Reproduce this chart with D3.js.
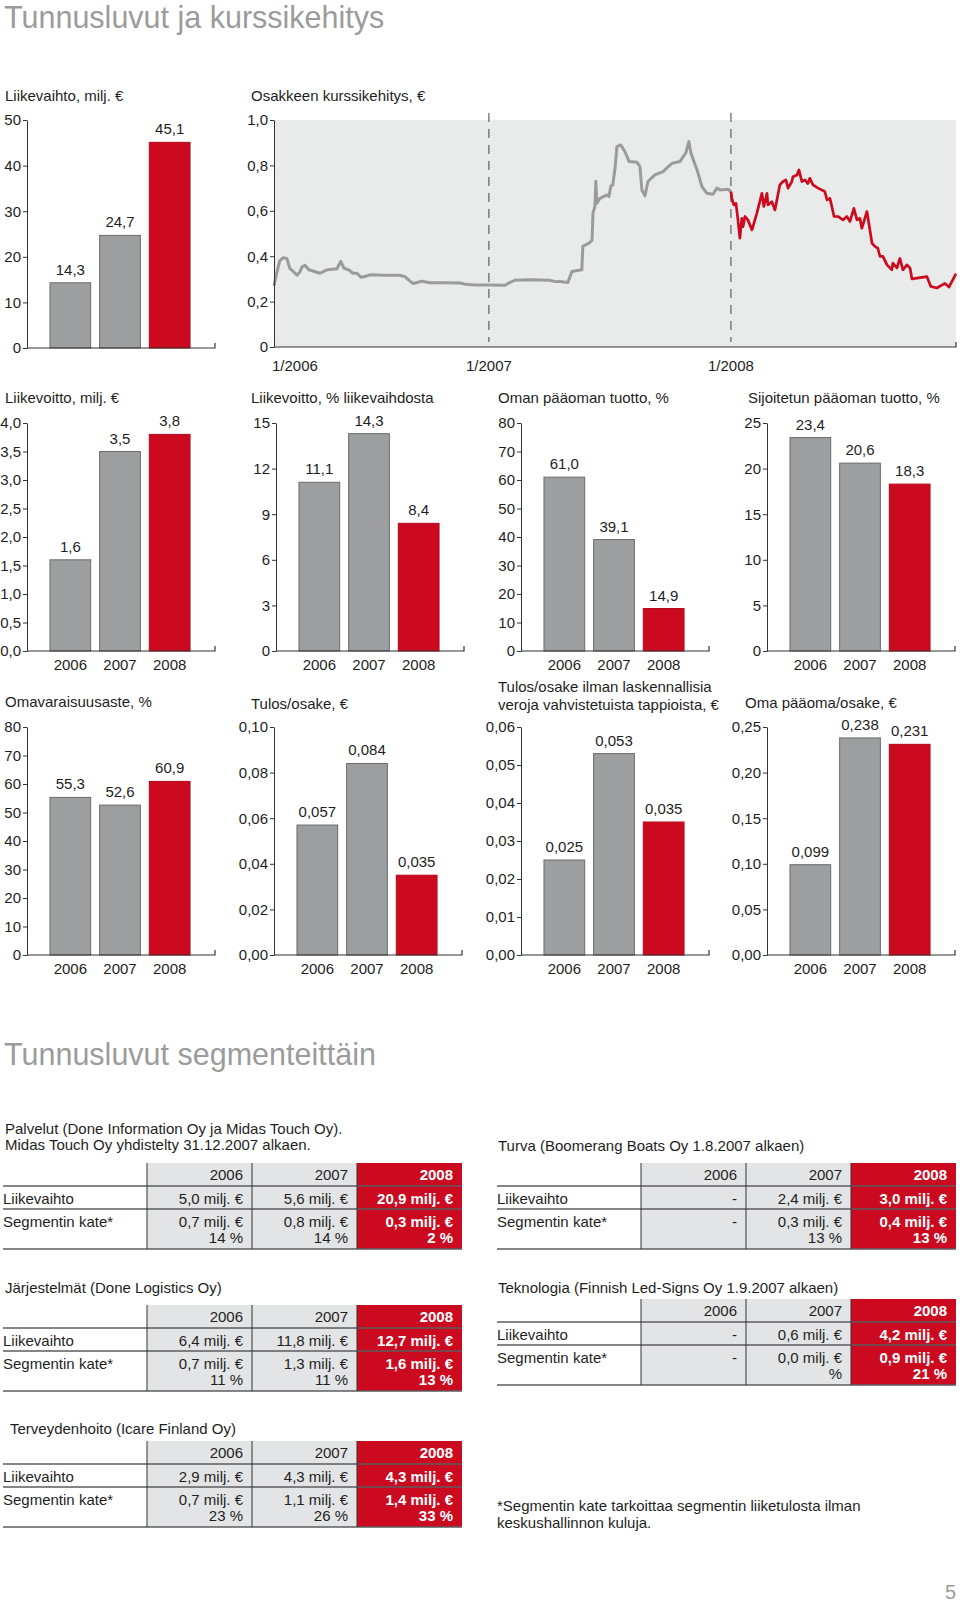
<!DOCTYPE html>
<html><head><meta charset="utf-8">
<script src="https://cdn.jsdelivr.net/npm/d3@7"></script>
<style>
body{margin:0;background:#fff}
svg{display:block}
text{font-family:"Liberation Sans",Arial,Helvetica,sans-serif}
</style>
</head><body>
<svg id="c" width="960" height="1605"></svg>
<script>
// ---------------- DATA ----------------
const years = ["2006", "2007", "2008"];
const liikevaihto = [14.3, 24.7, 45.1];
const liikevoitto = [1.6, 3.5, 3.8];
const liikevoittoPct = [11.1, 14.3, 8.4];
const omanPaaomanTuotto = [61.0, 39.1, 14.9];
const sijoitetunPaaomanTuotto = [23.4, 20.6, 18.3];
const omavaraisuusaste = [55.3, 52.6, 60.9];
const tulosOsake = [0.057, 0.084, 0.035];
const tulosOsakeIlman = [0.025, 0.053, 0.035];
const omaPaaomaOsake = [0.099, 0.238, 0.231];

const ticksLiikevaihto = [0, 10, 20, 30, 40, 50];
const ticksLiikevoitto = [0, 0.5, 1.0, 1.5, 2.0, 2.5, 3.0, 3.5, 4.0];
const ticksLiikevoittoPct = [0, 3, 6, 9, 12, 15];
const ticksOmanTuotto = [0, 10, 20, 30, 40, 50, 60, 70, 80];
const ticksSijoitetun = [0, 5, 10, 15, 20, 25];
const ticksOmavaraisuus = [0, 10, 20, 30, 40, 50, 60, 70, 80];
const ticksTulos = [0, 0.02, 0.04, 0.06, 0.08, 0.10];
const ticksTulosIlman = [0, 0.01, 0.02, 0.03, 0.04, 0.05, 0.06];
const ticksOmaPaaoma = [0, 0.05, 0.10, 0.15, 0.20, 0.25];

// share price (decimal year, €)
const stockDates = [2006.112,2006.124,2006.136,2006.149,2006.165,2006.178,2006.190,2006.207,2006.219,2006.227,2006.240,2006.256,2006.273,2006.302,2006.331,2006.372,2006.388,2006.401,2006.421,2006.438,2006.455,2006.471,2006.492,2006.508,2006.570,2006.632,2006.653,2006.674,2006.686,2006.707,2006.723,2006.756,2006.818,2006.880,2006.905,2006.942,2007.004,2007.066,2007.079,2007.107,2007.169,2007.252,2007.273,2007.293,2007.326,2007.343,2007.384,2007.388,2007.417,2007.426,2007.430,2007.438,2007.442,2007.446,2007.459,2007.488,2007.496,2007.504,2007.512,2007.521,2007.529,2007.545,2007.562,2007.579,2007.612,2007.624,2007.632,2007.645,2007.657,2007.686,2007.719,2007.756,2007.789,2007.814,2007.826,2007.835,2007.860,2007.880,2007.901,2007.926,2007.942,2007.955,2007.988,2008.000,2008.004,2008.012,2008.021,2008.029,2008.037,2008.045,2008.050,2008.058,2008.070,2008.087,2008.107,2008.128,2008.136,2008.149,2008.153,2008.169,2008.182,2008.202,2008.215,2008.227,2008.236,2008.252,2008.256,2008.273,2008.281,2008.293,2008.306,2008.318,2008.326,2008.339,2008.360,2008.388,2008.397,2008.409,2008.417,2008.426,2008.442,2008.463,2008.479,2008.492,2008.508,2008.521,2008.533,2008.541,2008.562,2008.583,2008.595,2008.607,2008.616,2008.628,2008.645,2008.665,2008.669,2008.686,2008.698,2008.711,2008.727,2008.740,2008.748,2008.810,2008.826,2008.851,2008.884,2008.901,2008.930];
const stockPrices = [0.27,0.33,0.38,0.393,0.39,0.345,0.335,0.316,0.33,0.352,0.36,0.34,0.335,0.325,0.34,0.345,0.377,0.347,0.34,0.325,0.325,0.307,0.312,0.318,0.316,0.316,0.31,0.29,0.28,0.285,0.29,0.283,0.283,0.282,0.276,0.273,0.273,0.272,0.28,0.294,0.296,0.294,0.288,0.289,0.284,0.333,0.34,0.443,0.46,0.47,0.59,0.62,0.73,0.633,0.655,0.67,0.663,0.71,0.714,0.787,0.883,0.89,0.86,0.817,0.814,0.795,0.692,0.666,0.729,0.758,0.773,0.809,0.817,0.856,0.905,0.853,0.78,0.707,0.677,0.673,0.70,0.692,0.695,0.685,0.655,0.626,0.633,0.56,0.48,0.567,0.53,0.575,0.56,0.516,0.589,0.677,0.619,0.677,0.626,0.64,0.604,0.714,0.729,0.736,0.70,0.729,0.75,0.758,0.78,0.729,0.736,0.72,0.743,0.714,0.70,0.685,0.648,0.655,0.619,0.575,0.575,0.56,0.575,0.553,0.611,0.56,0.567,0.523,0.597,0.457,0.443,0.435,0.399,0.399,0.362,0.34,0.37,0.348,0.39,0.34,0.362,0.348,0.30,0.31,0.267,0.26,0.28,0.264,0.323];
const stockTicks = [0, 0.2, 0.4, 0.6, 0.8, 1.0];
const stockYearTicks = [2006, 2007, 2008];
const stockYearLabels = ["1/2006", "1/2007", "1/2008"];

// segment tables
const rowLabels = ["Liikevaihto", "Segmentin kate*"];
const palvelutLiikevaihto = ["5,0 milj. €", "5,6 milj. €", "20,9 milj. €"];
const palvelutKate = ["0,7 milj. €", "0,8 milj. €", "0,3 milj. €"];
const palvelutKatePct = ["14 %", "14 %", "2 %"];
const turvaLiikevaihto = ["-", "2,4 milj. €", "3,0 milj. €"];
const turvaKate = ["-", "0,3 milj. €", "0,4 milj. €"];
const turvaKatePct = ["", "13 %", "13 %"];
const jarjestelmatLiikevaihto = ["6,4 milj. €", "11,8 milj. €", "12,7 milj. €"];
const jarjestelmatKate = ["0,7 milj. €", "1,3 milj. €", "1,6 milj. €"];
const jarjestelmatKatePct = ["11 %", "11 %", "13 %"];
const teknologiaLiikevaihto = ["-", "0,6 milj. €", "4,2 milj. €"];
const teknologiaKate = ["-", "0,0 milj. €", "0,9 milj. €"];
const teknologiaKatePct = ["", "%", "21 %"];
const terveysLiikevaihto = ["2,9 milj. €", "4,3 milj. €", "4,3 milj. €"];
const terveysKate = ["0,7 milj. €", "1,1 milj. €", "1,4 milj. €"];
const terveysKatePct = ["23 %", "26 %", "33 %"];

// ---------------- DRAWING ----------------
const svg = d3.select("#c");
const INK = "#1e1e1e", GRAY = "#9d9e9f", GRAYEDGE = "#6a6b6d", RED = "#cc0a1f", HEAD = "#9b9b9b";
const FS = 15;
const fmt1 = v => d3.format(".1f")(v).replace(".", ",");
const fmt2 = v => d3.format(".2f")(v).replace(".", ",");
const fmt3 = v => d3.format(".3f")(v).replace(".", ",");
const fmt0 = v => d3.format("d")(v);

function heading(txt, x, y) {
  svg.append("text").attr("x", x).attr("y", y).attr("font-size", 30.5)
    .attr("fill", HEAD).text(txt);
}
heading("Tunnusluvut ja kurssikehitys", 4, 28);
heading("Tunnusluvut segmenteittäin", 4, 1065);

function styleAxis(g) {
  g.selectAll("text").attr("font-size", FS).attr("fill", INK);
  g.selectAll("line").attr("stroke", "#333");
  g.select(".domain").attr("stroke", "#333");
}

function barChart(o) {
  const g = svg.append("g");
  o.title.forEach((t, i) => g.append("text").attr("x", o.tx).attr("y", o.ty + i * 18)
    .attr("font-size", FS).attr("fill", INK).text(t));
  const y = d3.scaleLinear().domain([0, d3.max(o.ticks)]).range([o.yb, o.yt]);
  const x = d3.scaleBand().domain(years).range([o.ax + 18, o.ax + 168])
    .paddingInner(0.18).paddingOuter(0.1);
  g.selectAll("rect.bar").data(o.values).join("rect").attr("class", "bar")
    .attr("x", (d, i) => x(years[i]))
    .attr("y", d => y(d))
    .attr("width", x.bandwidth())
    .attr("height", d => y(0) - y(d))
    .attr("fill", (d, i) => i === 2 ? RED : GRAY)
    .attr("stroke", (d, i) => i === 2 ? "#b5071b" : GRAYEDGE)
    .attr("stroke-width", 1);
  g.selectAll("text.val").data(o.values).join("text").attr("class", "val")
    .attr("x", (d, i) => x(years[i]) + x.bandwidth() / 2)
    .attr("y", d => y(d) - 8)
    .attr("text-anchor", "middle").attr("font-size", FS).attr("fill", INK)
    .text(d => o.valFmt(d));
  const ya = g.append("g").attr("transform", `translate(${o.ax},0)`)
    .call(d3.axisLeft(y).tickValues(o.ticks).tickFormat(o.tickFmt).tickSizeInner(4).tickSizeOuter(0).tickPadding(2));
  styleAxis(ya);
  const xe = o.ax + 188;
  g.append("path").attr("d", `M${o.ax},${o.yb}H${xe}V${o.yb - 5}`)
    .attr("fill", "none").attr("stroke", "#333").attr("stroke-width", 1.2);
  if (o.showYears) {
    g.selectAll("text.yr").data(years).join("text").attr("class", "yr")
      .attr("x", d => x(d) + x.bandwidth() / 2).attr("y", o.yb + 19)
      .attr("text-anchor", "middle").attr("font-size", FS).attr("fill", INK).text(d => d);
  }
}

// Row 1
barChart({ax: 27, yt: 120, yb: 348, tx: 5, ty: 101, title: ["Liikevaihto, milj. €"],
  values: liikevaihto, ticks: ticksLiikevaihto, tickFmt: fmt0, valFmt: fmt1, showYears: false});

// Stock chart
(function () {
  const ax = 274, xr = 956, yt = 120, yb = 347;
  const g = svg.append("g");
  g.append("text").attr("x", 251).attr("y", 101).attr("font-size", FS).attr("fill", INK)
    .text("Osakkeen kurssikehitys, €");
  const xs = d3.scaleLinear().domain([stockDates[0], stockDates[stockDates.length - 1]]).range([ax, xr]);
  const ys = d3.scaleLinear().domain([0, 1]).range([yb, yt]);
  g.append("rect").attr("x", ax).attr("y", yt).attr("width", xr - ax).attr("height", yb - yt)
    .attr("fill", "#e9eaea");
  stockYearTicks.filter(t => xs(t) > ax + 1).forEach(t => {
    g.append("line").attr("x1", xs(t)).attr("x2", xs(t)).attr("y1", 113).attr("y2", 342)
      .attr("stroke", "#444").attr("stroke-width", 1).attr("stroke-dasharray", "9,7");
  });
  const pts = stockDates.map((d, i) => ({d, p: stockPrices[i]}));
  const line = d3.line().x(d => xs(d.d)).y(d => ys(d.p));
  g.append("path").datum(pts.filter(d => d.d <= 2008)).attr("d", line)
    .attr("fill", "none").attr("stroke", "#9b9b9b").attr("stroke-width", 3).attr("stroke-linejoin", "round");
  g.append("path").datum(pts.filter(d => d.d >= 2008)).attr("d", line)
    .attr("fill", "none").attr("stroke", RED).attr("stroke-width", 2.7).attr("stroke-linejoin", "round");
  const ya = g.append("g").attr("transform", `translate(${ax},0)`)
    .call(d3.axisLeft(ys).tickValues(stockTicks).tickFormat(v => v === 0 ? "0" : fmt1(v))
      .tickSizeInner(4).tickSizeOuter(0).tickPadding(2));
  styleAxis(ya);
  g.append("path").attr("d", `M${ax},${yb}H${xr}V${yb - 5}`)
    .attr("fill", "none").attr("stroke", "#333").attr("stroke-width", 1.2);
  stockYearTicks.forEach((t, i) => {
    const px = xs(t);
    const inside = px > ax + 1;
    g.append("text").attr("x", inside ? px : ax - 2).attr("y", 371)
      .attr("text-anchor", inside ? "middle" : "start")
      .attr("font-size", FS).attr("fill", INK).text(stockYearLabels[i]);
  });
})();

// Row 2
barChart({ax: 27, yt: 423, yb: 651, tx: 5, ty: 403, title: ["Liikevoitto, milj. €"],
  values: liikevoitto, ticks: ticksLiikevoitto, tickFmt: fmt1, valFmt: fmt1, showYears: true});
barChart({ax: 276, yt: 423, yb: 651, tx: 251, ty: 403, title: ["Liikevoitto, % liikevaihdosta"],
  values: liikevoittoPct, ticks: ticksLiikevoittoPct, tickFmt: fmt0, valFmt: fmt1, showYears: true});
barChart({ax: 521, yt: 423, yb: 651, tx: 498, ty: 403, title: ["Oman pääoman tuotto, %"],
  values: omanPaaomanTuotto, ticks: ticksOmanTuotto, tickFmt: fmt0, valFmt: fmt1, showYears: true});
barChart({ax: 767, yt: 423, yb: 651, tx: 748, ty: 403, title: ["Sijoitetun pääoman tuotto, %"],
  values: sijoitetunPaaomanTuotto, ticks: ticksSijoitetun, tickFmt: fmt0, valFmt: fmt1, showYears: true});

// Row 3
barChart({ax: 27, yt: 727, yb: 955, tx: 5, ty: 707, title: ["Omavaraisuusaste, %"],
  values: omavaraisuusaste, ticks: ticksOmavaraisuus, tickFmt: fmt0, valFmt: fmt1, showYears: true});
barChart({ax: 274, yt: 727, yb: 955, tx: 251, ty: 709, title: ["Tulos/osake, €"],
  values: tulosOsake, ticks: ticksTulos, tickFmt: fmt2, valFmt: fmt3, showYears: true});
barChart({ax: 521, yt: 727, yb: 955, tx: 498, ty: 692, title: ["Tulos/osake ilman laskennallisia", "veroja vahvistetuista tappioista, €"],
  values: tulosOsakeIlman, ticks: ticksTulosIlman, tickFmt: fmt2, valFmt: fmt3, showYears: true});
barChart({ax: 767, yt: 727, yb: 955, tx: 745, ty: 708, title: ["Oma pääoma/osake, €"],
  values: omaPaaomaOsake, ticks: ticksOmaPaaoma, tickFmt: fmt2, valFmt: fmt3, showYears: true});

// ---------------- TABLES ----------------
function segTable(o) {
  const g = svg.append("g");
  o.subtitle.forEach((t, i) => g.append("text").attr("x", o.sx).attr("y", o.sy + i * 16)
    .attr("font-size", FS).attr("fill", INK).text(t));
  const widths = [144, 105, 105, 105];
  const cx = [o.x0];
  widths.forEach(w => cx.push(cx[cx.length - 1] + w));
  const rh = [23, 23, 40];
  const ry = [o.top];
  rh.forEach(h => ry.push(ry[ry.length - 1] + h));
  const bottom = ry[3];
  for (let c = 0; c < 3; c++) {
    g.append("rect").attr("x", cx[c + 1]).attr("y", o.top).attr("width", widths[c + 1])
      .attr("height", bottom - o.top).attr("fill", c === 2 ? RED : "#e3e4e5");
  }
  [ry[1], ry[2], ry[3]].forEach(yy => g.append("line").attr("x1", cx[0]).attr("x2", cx[4])
    .attr("y1", yy).attr("y2", yy).attr("stroke", "#5c5d5f").attr("stroke-width", 1.5));
  [cx[1], cx[2], cx[3]].forEach(xx => g.append("line").attr("x1", xx).attr("x2", xx)
    .attr("y1", o.top).attr("y2", bottom).attr("stroke", "#333").attr("stroke-width", 1));
  const cell = (c, yy, txt) => {
    const red = c === 2;
    g.append("text").attr("x", cx[c + 2] - 9).attr("y", yy).attr("text-anchor", "end")
      .attr("font-size", FS).attr("font-weight", red ? "bold" : "normal")
      .attr("fill", red ? "#fff" : INK).text(txt);
  };
  years.forEach((yr, c) => cell(c, o.top + 17, yr));
  g.append("text").attr("x", cx[0]).attr("y", o.top + 41).attr("font-size", FS).attr("fill", INK).text(rowLabels[0]);
  g.append("text").attr("x", cx[0]).attr("y", o.top + 64).attr("font-size", FS).attr("fill", INK).text(rowLabels[1]);
  o.liikevaihto.forEach((t, c) => cell(c, o.top + 41, t));
  o.kate.forEach((t, c) => cell(c, o.top + 64, t));
  o.katePct.forEach((t, c) => cell(c, o.top + 80, t));
}

segTable({x0: 3, top: 1163, sx: 5, sy: 1134,
  subtitle: ["Palvelut (Done Information Oy ja Midas Touch Oy).", "Midas Touch Oy yhdistelty 31.12.2007 alkaen."],
  liikevaihto: palvelutLiikevaihto, kate: palvelutKate, katePct: palvelutKatePct});
segTable({x0: 497, top: 1163, sx: 498, sy: 1151,
  subtitle: ["Turva (Boomerang Boats Oy 1.8.2007 alkaen)"],
  liikevaihto: turvaLiikevaihto, kate: turvaKate, katePct: turvaKatePct});
segTable({x0: 3, top: 1305, sx: 5, sy: 1293,
  subtitle: ["Järjestelmät (Done Logistics Oy)"],
  liikevaihto: jarjestelmatLiikevaihto, kate: jarjestelmatKate, katePct: jarjestelmatKatePct});
segTable({x0: 497, top: 1299, sx: 498, sy: 1293,
  subtitle: ["Teknologia (Finnish Led-Signs Oy 1.9.2007 alkaen)"],
  liikevaihto: teknologiaLiikevaihto, kate: teknologiaKate, katePct: teknologiaKatePct});
segTable({x0: 3, top: 1441, sx: 10, sy: 1434,
  subtitle: ["Terveydenhoito (Icare Finland Oy)"],
  liikevaihto: terveysLiikevaihto, kate: terveysKate, katePct: terveysKatePct});

svg.append("text").attr("x", 497).attr("y", 1511).attr("font-size", FS).attr("fill", INK)
  .text("*Segmentin kate tarkoittaa segmentin liiketulosta ilman");
svg.append("text").attr("x", 497).attr("y", 1528).attr("font-size", FS).attr("fill", INK)
  .text("keskushallinnon kuluja.");
svg.append("text").attr("x", 956).attr("y", 1599).attr("text-anchor", "end").attr("font-size", 20)
  .attr("fill", HEAD).text("5");
</script>
</body></html>
